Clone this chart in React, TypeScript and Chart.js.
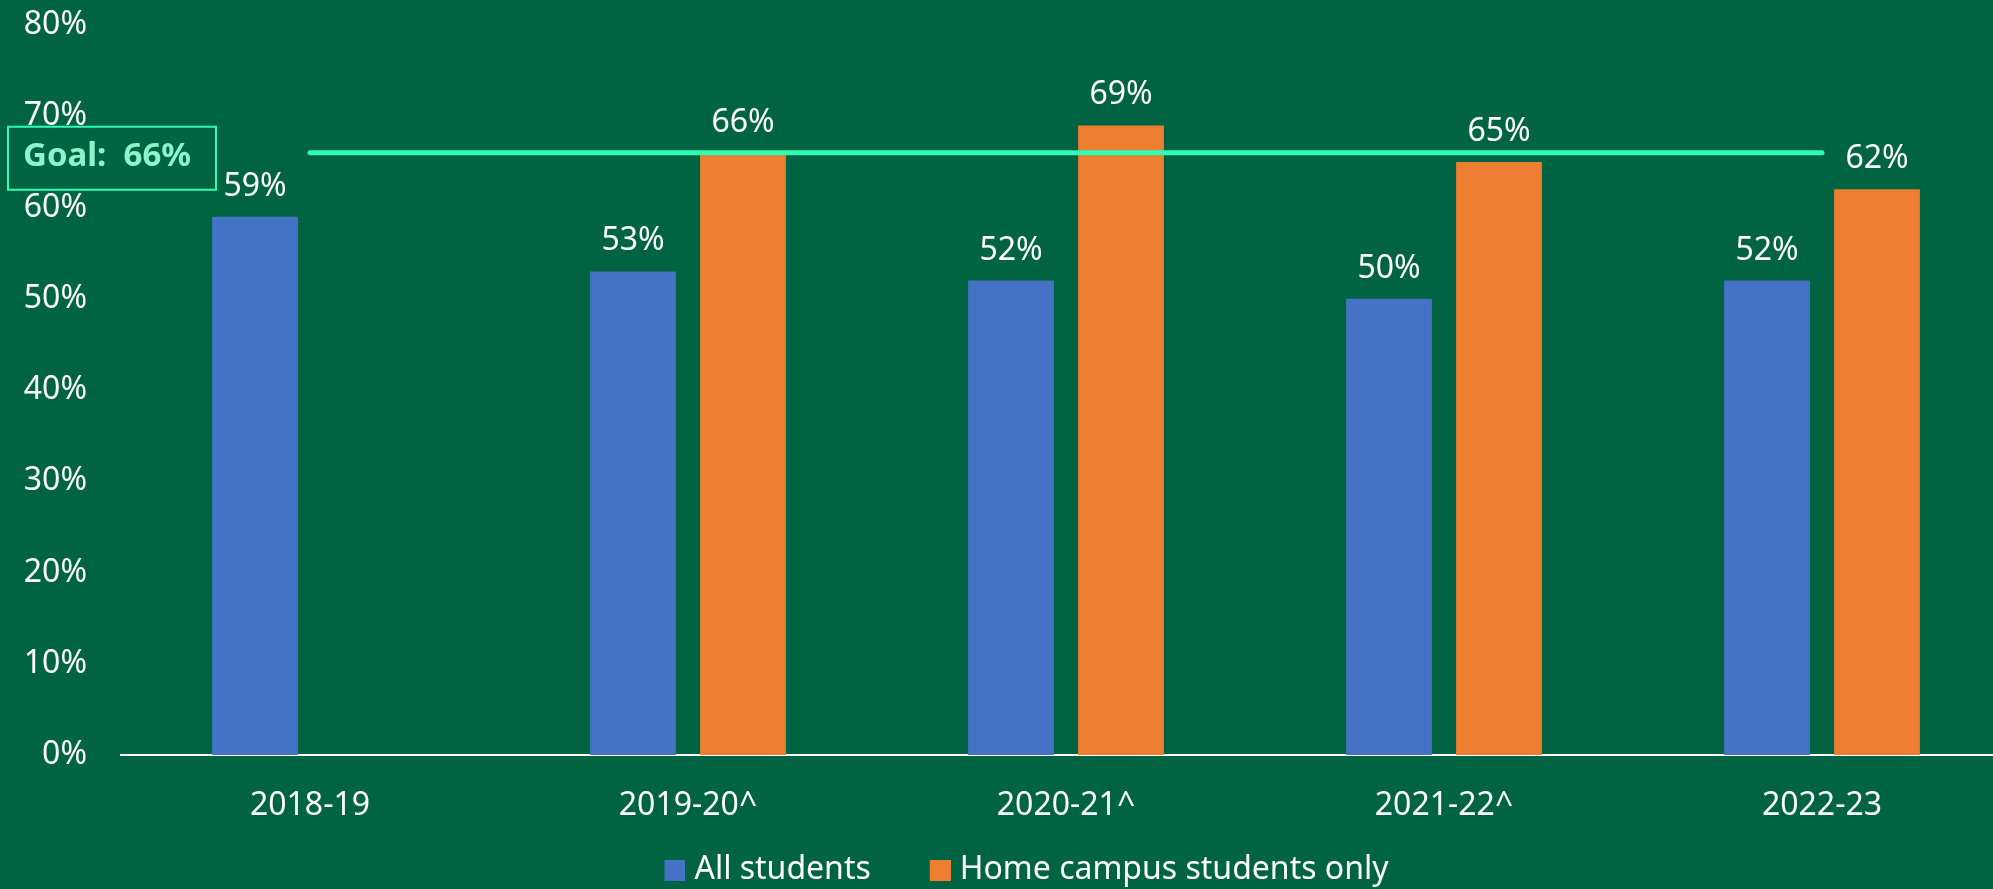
import React, { useEffect, useRef } from "react";
import { Chart, registerables } from "chart.js";

Chart.register(...registerables);

const categories = ["2018-19", "2019-20^", "2020-21^", "2021-22^", "2022-23"];
const allStudents = [59, 53, 52, 50, 52];
const homeCampus: (number | null)[] = [null, 66, 69, 65, 62];
const goalValue = 66;
const goalLine = [66, 66, 66, 66, 66];
const seriesNames = ["All students", "Home campus students only"];
const goalText = "Goal:  66%";
const yMin = 0;
const yMax = 80;
const yStep = 10;

const FONT = "'Noto Sans', sans-serif";
const BG = "#006443";
const BLUE = "#4472C4";
const ORANGE = "#ED7D31";
const MINT = "#2EFDB3";
const MINT_TEXT = "#8EF2CD";

function legendSwatch(color: string) {
  const c = document.createElement("canvas");
  c.width = 60;
  c.height = 21;
  const g = c.getContext("2d")!;
  g.fillStyle = color;
  g.fillRect(39, 0, 21, 21);
  return c;
}

const dataLabelPlugin = {
  id: "dataLabels",
  afterDatasetsDraw(chart: any) {
    const ctx = chart.ctx;
    ctx.save();
    ctx.font = `32px ${FONT}`;
    ctx.fillStyle = "#FFFFFF";
    ctx.textAlign = "center";
    ctx.textBaseline = "middle";
    chart.data.datasets.forEach((ds: any, di: number) => {
      if (ds.type === "line") return;
      const meta = chart.getDatasetMeta(di);
      meta.data.forEach((el: any, i: number) => {
        const v = ds.data[i];
        if (v === null || v === undefined) return;
        ctx.fillText(`${v}%`, el.x, el.y - 30);
      });
    });
    ctx.restore();
  },
};

const goalBoxPlugin = {
  id: "goalBox",
  afterDraw(chart: any) {
    const ctx = chart.ctx;
    const yGoal = chart.scales.y.getPixelForValue(goalValue);
    ctx.save();
    ctx.strokeStyle = MINT;
    ctx.lineWidth = 2;
    ctx.strokeRect(8, yGoal - 26, 208, 63);
    ctx.font = `bold 33px ${FONT}`;
    ctx.fillStyle = MINT_TEXT;
    ctx.textAlign = "left";
    ctx.textBaseline = "middle";
    ctx.fillText(goalText, 23, yGoal + 4);
    ctx.restore();
  },
};

export default function App() {
  const ref = useRef<HTMLCanvasElement>(null);

  useEffect(() => {
    if (!ref.current) return;
    const swatches: Record<number, HTMLCanvasElement> = {
      1: legendSwatch(BLUE),
      2: legendSwatch(ORANGE),
    };
    const chart = new Chart(ref.current, {
      type: "bar",
      data: {
        labels: categories,
        datasets: [
          {
            type: "line" as any,
            label: "Goal",
            data: goalLine,
            borderColor: MINT,
            borderWidth: 5,
            borderCapStyle: "round",
            pointRadius: 0,
            fill: false,
            order: 0,
          } as any,
          {
            label: seriesNames[0],
            data: allStudents,
            backgroundColor: BLUE,
            order: 1,
          },
          {
            label: seriesNames[1],
            data: homeCampus,
            backgroundColor: ORANGE,
            order: 1,
          },
        ],
      },
      options: {
        responsive: false,
        animation: false,
        devicePixelRatio: 1,
        categoryPercentage: 0.582,
        barPercentage: 0.78,
        layout: { padding: { left: 10, right: 19, top: 25, bottom: 0 } },
        plugins: {
          tooltip: { enabled: false },
          legend: {
            position: "bottom",
            labels: {
              color: "#FFFFFF",
              font: { family: FONT, size: 32 },
              usePointStyle: true,
              pointStyleWidth: 46,
              boxWidth: 46,
              boxHeight: 21,
              padding: 27,
              generateLabels: (c: any) => {
                const items = (Chart.defaults.plugins.legend.labels as any).generateLabels(c);
                return items
                  .filter((it: any) => it.datasetIndex !== 0)
                  .map((it: any) => ({ ...it, pointStyle: swatches[it.datasetIndex], lineWidth: 0 }));
              },
            },
          },
        },
        scales: {
          x: {
            grid: { display: false, drawTicks: false },
            border: { display: true, color: "#FFFFFF", width: 2 },
            ticks: {
              color: "#FFFFFF",
              font: { family: FONT, size: 32 },
              padding: 32,
              maxRotation: 0,
            },
            afterFit(scale: any) {
              scale.height = 72;
              scale.paddingTop = 0;
              scale.paddingBottom = 0;
            },
          },
          y: {
            min: yMin,
            max: yMax,
            grid: { display: false, drawTicks: false },
            border: { display: false },
            ticks: {
              stepSize: yStep,
              color: "#FFFFFF",
              font: { family: FONT, size: 32 },
              padding: 34,
              callback: (v: any) => `${v}%`,
            },
            afterFit(scale: any) {
              scale.width = 111;
              scale.paddingTop = 0;
              scale.paddingBottom = 0;
            },
          },
        },
      },
      plugins: [dataLabelPlugin, goalBoxPlugin],
    });
    return () => chart.destroy();
  }, []);

  return (
    <div
      style={{
        position: "fixed",
        left: 0,
        top: 0,
        width: 1993,
        height: 889,
        overflow: "hidden",
        background: BG,
      }}
    >
      <canvas ref={ref} width={2030} height={896} style={{ display: "block", width: 2030, height: 896 }} />
    </div>
  );
}
